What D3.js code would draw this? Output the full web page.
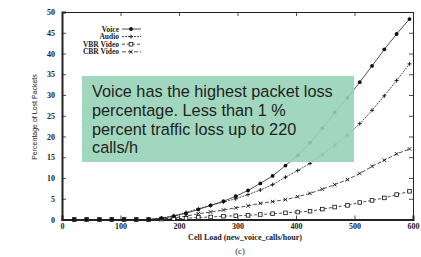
<!DOCTYPE html>
<html>
<head>
<meta charset="utf-8">
<script src="https://cdn.jsdelivr.net/npm/d3@7"></script>
<style>
body { margin: 0; background: #fff; }
svg { display: block; }
</style>
</head>
<body>
<svg id="chart" width="421" height="257"></svg>
<script>
// values (cell load in new voice calls/hour, % lost packets)
const cellLoad = [21, 42, 64, 85, 106, 127, 148, 170, 191, 212, 233, 254, 276, 297, 318, 339, 360, 382, 403, 424, 445, 466, 488, 509, 530, 551, 572, 594];
const voice = [0, 0, 0, 0, 0, 0, 0, 0.3, 0.8, 1.5, 2.4, 3.4, 4.4, 5.6, 7.0, 8.7, 10.5, 13.0, 15.5, 18.5, 22.0, 25.8, 29.3, 33.1, 37.0, 41.0, 44.7, 48.3];
const audio = [0, 0, 0, 0, 0, 0, 0, 0.3, 0.9, 1.7, 2.6, 3.4, 4.2, 5.0, 6.0, 7.1, 8.4, 10.2, 11.8, 13.5, 15.6, 17.9, 20.3, 23.1, 26.3, 29.8, 33.5, 37.5];
const vbrVideo = [0, 0, 0, 0, 0, 0, 0, 0.1, 0.2, 0.3, 0.5, 0.6, 0.8, 0.9, 1.0, 1.2, 1.4, 1.6, 1.8, 2.0, 2.5, 3.0, 3.4, 4.1, 4.6, 5.2, 6.0, 6.8];
const cbrVideo = [0, 0, 0, 0, 0, 0, 0, 0.1, 0.4, 0.8, 1.4, 1.8, 2.3, 2.8, 3.3, 3.9, 4.3, 4.8, 5.5, 6.3, 7.3, 8.4, 9.6, 11.1, 12.8, 14.3, 15.8, 17.0];

const xTicks = [0, 100, 200, 300, 400, 500, 600];
const yTicks = [0, 5, 10, 15, 20, 25, 30, 35, 40, 45, 50];
const seriesNames = ["Voice", "Audio", "VBR Video", "CBR Video"];
const noteLines = ["Voice has the highest packet loss", "percentage. Less than 1 %", "percent traffic loss up to 220", "calls/h"];

const svg = d3.select("#chart");
const plotLeft = 62, plotRight = 413, plotTop = 12, plotBottom = 219.5;

const x = d3.scaleLinear().domain([0, 600]).range([plotLeft, plotRight]);
const y = d3.scaleLinear().domain([0, 50]).range([plotBottom, plotTop]);

svg.append("rect").attr("width", 421).attr("height", 257).attr("fill", "#fff");

const tickFont = "'Liberation Serif', 'DejaVu Serif', serif";

//axes, ticks pointing inward like gnuplot
const xAxis = svg.append("g").attr("transform", "translate(0," + plotBottom + ")")
    .call(d3.axisBottom(x).tickValues(xTicks).tickSize(-4).tickPadding(4).tickFormat(d3.format("d")));
const xTop = svg.append("g").attr("transform", "translate(0," + plotTop + ")")
    .call(d3.axisTop(x).tickValues(xTicks).tickSize(-4).tickFormat(""));
const yAxis = svg.append("g").attr("transform", "translate(" + plotLeft + ",0)")
    .call(d3.axisLeft(y).tickValues(yTicks).tickSize(-4).tickPadding(7).tickFormat(d3.format("d")));
const yRight = svg.append("g").attr("transform", "translate(" + plotRight + ",0)")
    .call(d3.axisRight(y).tickValues(yTicks).tickSize(-4).tickFormat(""));

[xAxis, xTop, yAxis, yRight].forEach(g => {
    g.select(".domain").attr("stroke", "#222").attr("stroke-width", 1);
    g.selectAll(".tick line").attr("stroke", "#222").attr("stroke-width", 0.8);
    g.selectAll("text").attr("font-family", tickFont).attr("font-size", 8)
        .attr("font-weight", "bold").attr("fill", "#222");
});
xAxis.select(".domain").attr("stroke-width", 2);
yAxis.select(".domain").attr("stroke-width", 2);

// axis titles
svg.append("text")
    .attr("x", 245).attr("y", 240)
    .attr("text-anchor", "middle")
    .attr("font-family", tickFont).attr("font-size", 8).attr("font-weight", "bold").attr("fill", "#222")
    .text("Cell Load (new_voice_calls/hour)");

svg.append("text")
    .attr("x", 240).attr("y", 254)
    .attr("text-anchor", "middle")
    .attr("font-family", tickFont).attr("font-size", 8.5).attr("fill", "#222")
    .text("(c)");

svg.append("text")
    .attr("transform", "translate(37,117) rotate(-90)")
    .attr("text-anchor", "middle")
    .attr("font-family", "'Liberation Sans Narrow', 'Liberation Sans', sans-serif")
    .attr("font-size", 7).attr("fill", "#222")
    .text("Percentage of Lost Packets");

// series
const series = [
    {name: seriesNames[0], values: voice, dash: null, marker: "dot"},
    {name: seriesNames[1], values: audio, dash: "2,1", marker: "plus"},
    {name: seriesNames[2], values: vbrVideo, dash: "3,2", marker: "square"},
    {name: seriesNames[3], values: cbrVideo, dash: "4,2", marker: "cross"}
];

const line = d3.line().x(d => x(d[0])).y(d => y(d[1]));

function drawMarker(g, type, cx, cy) {
    if (type === "dot") {
        g.append("circle").attr("cx", cx).attr("cy", cy).attr("r", 1.9).attr("fill", "#111");
    } else if (type === "plus") {
        g.append("path").attr("d", "M" + (cx - 2) + "," + cy + "h4M" + cx + "," + (cy - 2) + "v4")
            .attr("stroke", "#111").attr("stroke-width", 0.9).attr("fill", "none");
    } else if (type === "square") {
        g.append("rect").attr("x", cx - 1.8).attr("y", cy - 1.8).attr("width", 3.6).attr("height", 3.6)
            .attr("stroke", "#111").attr("stroke-width", 0.8).attr("fill", "#fff");
    } else {
        g.append("path").attr("d", "M" + (cx - 1.8) + "," + (cy - 1.8) + "l3.6,3.6M" + (cx - 1.8) + "," + (cy + 1.8) + "l3.6,-3.6")
            .attr("stroke", "#111").attr("stroke-width", 0.9).attr("fill", "none");
    }
}

const plot = svg.append("g");
// draw bottom series first so voice ends up on top
series.slice().reverse().forEach(s => {
    const pts = cellLoad.map((c, i) => [c, s.values[i]]);
    plot.append("path")
        .attr("d", line(pts))
        .attr("fill", "none")
        .attr("stroke", "#222")
        .attr("stroke-width", 0.8)
        .attr("stroke-dasharray", s.dash);
    const mg = plot.append("g");
    pts.forEach(p => drawMarker(mg, s.marker, x(p[0]), y(p[1])));
});

// legend
const legend = svg.append("g");
series.forEach((s, i) => {
    const ly = 29 + i * 7.6;
    legend.append("text")
        .attr("x", 119).attr("y", ly + 2.5)
        .attr("text-anchor", "end")
        .attr("font-family", tickFont).attr("font-size", 7.5).attr("font-weight", "bold").attr("fill", "#222")
        .text(s.name);
    legend.append("line")
        .attr("x1", 122).attr("x2", 141).attr("y1", ly).attr("y2", ly)
        .attr("stroke", "#222").attr("stroke-width", 0.8)
        .attr("stroke-dasharray", s.dash);
    drawMarker(legend, s.marker, 131, ly);
});

// annotation box laid over the plot
svg.append("rect")
    .attr("x", 82).attr("y", 76).attr("width", 272).attr("height", 86)
    .attr("fill", "rgb(152,211,184)").attr("fill-opacity", 0.9);

const note = svg.append("text")
    .attr("font-family", "'Liberation Sans', Arial, sans-serif")
    .attr("font-size", 16.3).attr("fill", "#1e1e1e");
noteLines.forEach((t, i) => {
    note.append("tspan").attr("x", 92).attr("y", 97 + i * 18.8).text(t);
});
</script>
</body>
</html>
